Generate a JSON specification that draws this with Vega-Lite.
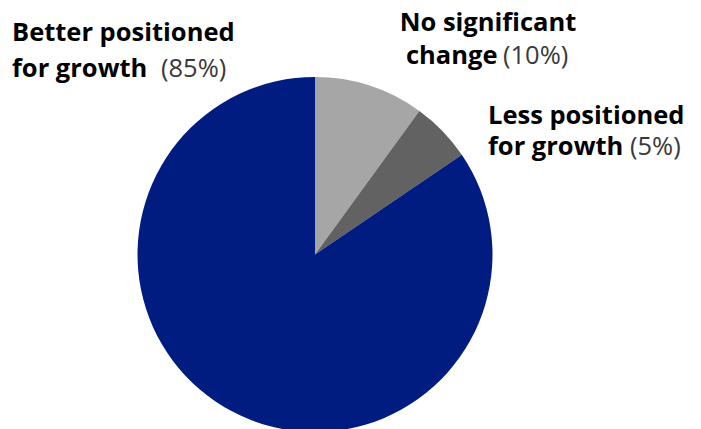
{
  "$schema": "https://vega.github.io/schema/vega-lite/v6.json",
  "width": 630,
  "height": 349,
  "autosize": "none",
  "padding": {"left": 0, "top": 80, "right": 71, "bottom": 0},
  "background": "white",
  "config": {"view": {"stroke": null}, "text": {"font": "Open Sans", "fontSize": 25.5, "baseline": "alphabetic"}},
  "data": {"values": [
    {"category": "No significant change", "value": 10},
    {"category": "Less positioned for growth", "value": 5.5},
    {"category": "Better positioned for growth", "value": 84.5}
  ]},
  "layer": [
    {
      "mark": {"type": "arc", "outerRadius": 177.5},
      "encoding": {
        "theta": {"field": "value", "type": "quantitative", "stack": true},
        "order": {"field": "category", "sort": "descending"},
        "color": {
          "field": "category", "type": "nominal",
          "scale": {"domain": ["No significant change", "Less positioned for growth", "Better positioned for growth"], "range": ["#A6A6A6", "#626262", "#001C80"]},
          "legend": null
        }
      }
    },
    {"data": {"values": [{}]}, "mark": {"type": "text", "text": "Better positioned", "x": 12, "y": -39, "align": "left", "fontWeight": "bold", "color": "#000000"}},
    {"data": {"values": [{}]}, "mark": {"type": "text", "text": "for growth", "x": 12, "y": -3.5, "align": "left", "fontWeight": "bold", "color": "#000000"}},
    {"data": {"values": [{}]}, "mark": {"type": "text", "text": "(85%)", "x": 161, "y": -3.5, "align": "left", "fontWeight": "normal", "color": "#3a3a3a"}},
    {"data": {"values": [{}]}, "mark": {"type": "text", "text": "No significant", "x": 488, "y": -49, "align": "center", "fontWeight": "bold", "color": "#000000"}},
    {"data": {"values": [{}]}, "mark": {"type": "text", "text": "change", "x": 406, "y": -16, "align": "left", "fontWeight": "bold", "color": "#000000"}},
    {"data": {"values": [{}]}, "mark": {"type": "text", "text": "(10%)", "x": 503, "y": -16, "align": "left", "fontWeight": "normal", "color": "#3a3a3a"}},
    {"data": {"values": [{}]}, "mark": {"type": "text", "text": "Less positioned", "x": 488, "y": 44, "align": "left", "fontWeight": "bold", "color": "#000000"}},
    {"data": {"values": [{}]}, "mark": {"type": "text", "text": "for growth", "x": 488, "y": 75, "align": "left", "fontWeight": "bold", "color": "#000000"}},
    {"data": {"values": [{}]}, "mark": {"type": "text", "text": "(5%)", "x": 630, "y": 75, "align": "left", "fontWeight": "normal", "color": "#3a3a3a"}}
  ]
}
